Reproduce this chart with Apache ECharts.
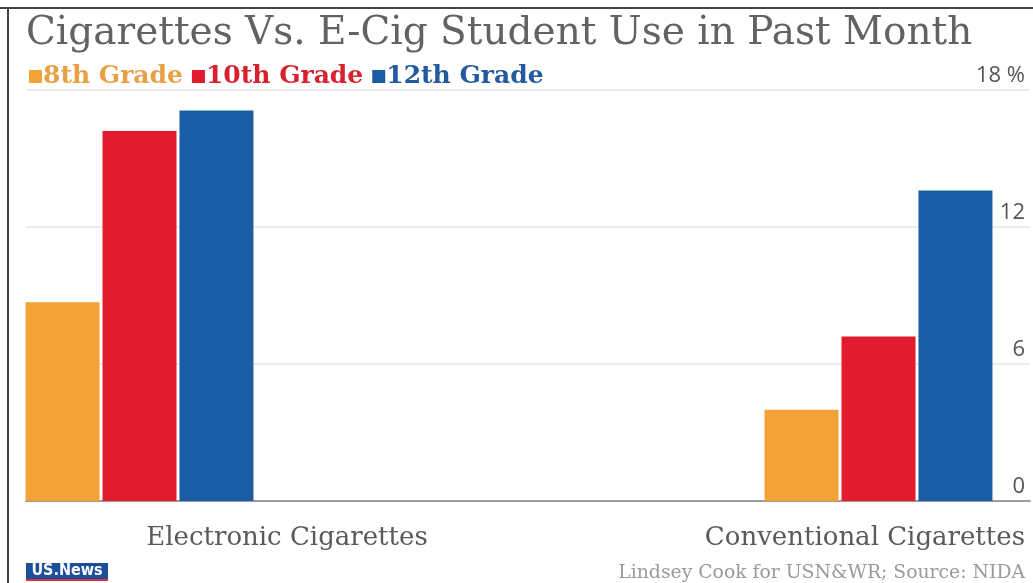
<!DOCTYPE html>
<html>
<head>
<meta charset="utf-8">
<script src="https://cdn.jsdelivr.net/npm/echarts@6/dist/echarts.min.js"></script>
<style>
html,body{margin:0;padding:0;background:#fff;}
#c{width:1033px;height:583px;}
</style>
</head>
<body>
<div id="c"></div>
<script>
const categories = ['Electronic Cigarettes', 'Conventional Cigarettes'];
const seriesNames = ['8th Grade', '10th Grade', '12th Grade'];
const grade8 = [8.7, 4.0];
const grade10 = [16.2, 7.2];
const grade12 = [17.1, 13.6];
const yTicks = [0, 6, 12, 18];
const colors = ['#F2A236', '#E31B2E', '#1B5DA4'];
const legendTextColors = ['#E9A044', '#D9202F', '#22599F'];

const chart = echarts.init(document.getElementById('c'));
const serif = '"DejaVu Serif", serif';

chart.setOption({
  backgroundColor: '#fff',
  animation: false,
  color: colors,
  legend: {
    left: 24, top: 59,
    icon: 'rect', itemWidth: 13, itemHeight: 13, itemGap: 9,
    selectedMode: false,
    data: seriesNames.map((n, i) => ({ name: n, textStyle: { color: legendTextColors[i] } })),
    textStyle: { fontFamily: serif, fontSize: 25, fontWeight: 'bold', padding: [0, 0, 0, -4] }
  },
  grid: [
    { left: 26, right: 3, top: 90, bottom: 82 },
    { left: 139.5, right: 154.5, top: 90, bottom: 82 }
  ],
  xAxis: [
    { gridIndex: 0, type: 'category', data: categories,
      axisLine: { lineStyle: { color: '#9c9c9c', width: 2 } },
      axisTick: { show: false }, axisLabel: { show: false } },
    { gridIndex: 1, type: 'category', data: categories, boundaryGap: false, show: false }
  ],
  yAxis: [
    { gridIndex: 0, type: 'value', position: 'right', min: yTicks[0], max: yTicks[yTicks.length - 1], interval: 6,
      axisLine: { show: false }, axisTick: { show: false },
      splitLine: { lineStyle: { color: '#e4e4e4', width: 1.5 } },
      axisLabel: { inside: true, margin: 5, align: 'right', verticalAlign: 'bottom',
        padding: [0, 0, 3, 0],
        color: '#555', fontSize: 22, fontFamily: '"Open Sans", sans-serif',
        formatter: v => v === 18 ? '18 %' : String(v) } },
    { gridIndex: 1, type: 'value', min: 0, max: 18, show: false }
  ],
  series: [grade8, grade10, grade12].map((d, i) => ({
    name: seriesNames[i], type: 'bar', xAxisIndex: 1, yAxisIndex: 1,
    data: d, barWidth: 74, barGap: '4%'
  })),
  graphic: [
    { type: 'line', shape: { x1: 0, y1: 8, x2: 1033, y2: 8 }, style: { stroke: '#444', lineWidth: 2 } },
    { type: 'line', shape: { x1: 8, y1: 8, x2: 8, y2: 583 }, style: { stroke: '#444', lineWidth: 2 } },
    { type: 'text', left: 26, top: 14,
      style: { text: 'Cigarettes Vs. E-Cig Student Use in Past Month', fill: '#626262',
        font: '39px ' + serif } },
    { type: 'text', x: 287, y: 538,
      style: { text: categories[0], fill: '#5a5a5a', font: '26px ' + serif, textAlign: 'center', textVerticalAlign: 'middle' } },
    { type: 'text', x: 1025, y: 538,
      style: { text: categories[1], fill: '#5a5a5a', font: '26px ' + serif, textAlign: 'right', textVerticalAlign: 'middle' } },
    { type: 'text', x: 1025, y: 573,
      style: { text: 'Lindsey Cook for USN&WR; Source: NIDA', fill: '#9a9a9a', font: '18.8px ' + serif, textAlign: 'right', textVerticalAlign: 'middle' } },
    { type: 'rect', shape: { x: 26, y: 563, width: 82, height: 16 }, style: { fill: '#1B4F9C' } },
    { type: 'rect', shape: { x: 26, y: 579, width: 82, height: 2 }, style: { fill: '#D9303A' } },
    { type: 'text', x: 67, y: 571,
      style: { text: 'US.News', fill: '#fff', font: 'bold 16px "DejaVu Sans Condensed", sans-serif', textAlign: 'center', textVerticalAlign: 'middle' } }
  ]
});
</script>
</body>
</html>
